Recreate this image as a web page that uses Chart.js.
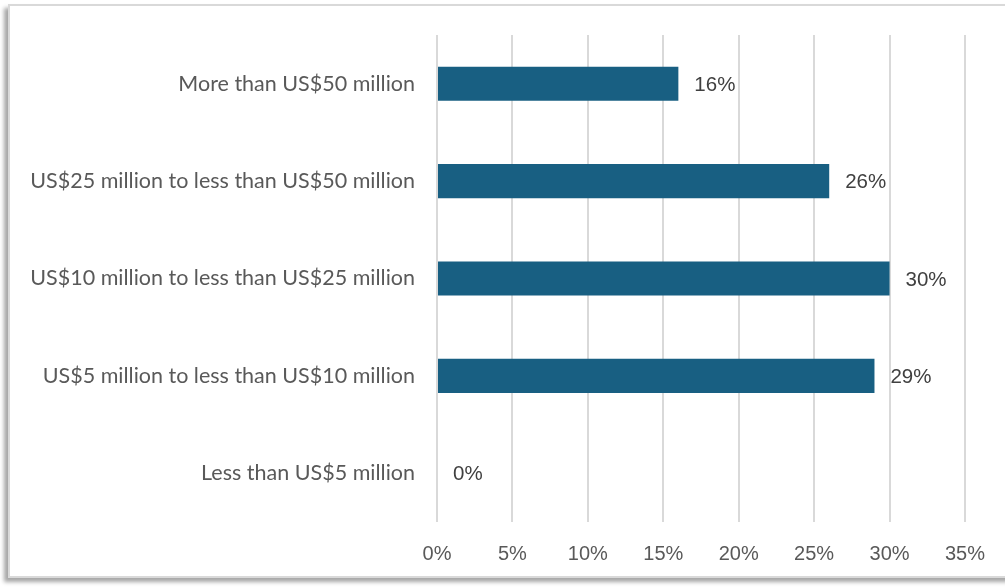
<!DOCTYPE html>
<html>
<head>
<meta charset="utf-8">
<script src="https://cdn.jsdelivr.net/npm/chart.js@4/dist/chart.umd.min.js"></script>
<style>
  html, body { margin: 0; padding: 0; background: #ffffff; overflow: hidden; }
  body { width: 1005px; height: 587px; position: relative; }
  .frame {
    position: absolute; left: 8px; top: 4px; width: 1020px; height: 574px;
    border: 2px solid #d9d9d9; box-sizing: border-box; background: #fff;
    box-shadow: -4px 4px 4px rgba(0,0,0,0.35);
  }
  canvas { position: absolute; left: 0; top: 0; }
</style>
</head>
<body>
<div class="frame"></div>
<canvas id="c" width="1005" height="587"></canvas>
<script>
const categories = [
  'More than US$50 million',
  'US$25 million to less than US$50 million',
  'US$10 million to less than US$25 million',
  'US$5 million to less than US$10 million',
  'Less than US$5 million'
];
const shares = [16, 26, 30, 29, 0];
const xTicks = [0, 5, 10, 15, 20, 25, 30, 35];

const valueLabels = {
  id: 'valueLabels',
  afterDatasetsDraw(chart) {
    const ctx = chart.ctx;
    const meta = chart.getDatasetMeta(0);
    ctx.save();
    ctx.font = '20.5px "Liberation Sans", Arial, sans-serif';
    ctx.fillStyle = '#404040';
    ctx.textAlign = 'left';
    ctx.textBaseline = 'middle';
    meta.data.forEach((bar, i) => {
      ctx.fillText(shares[i] + '%', bar.x + 16, bar.y + 1.5);
    });
    ctx.restore();
  }
};

new Chart(document.getElementById('c'), {
  type: 'bar',
  data: {
    labels: categories,
    datasets: [{
      data: shares,
      backgroundColor: '#185f82',
      borderWidth: 0,
      barPercentage: 0.35,
      categoryPercentage: 1
    }]
  },
  options: {
    indexAxis: 'y',
    responsive: false,
    animation: false,
    layout: { padding: { left: 0, right: 40, top: 35, bottom: 0 } },
    plugins: { legend: { display: false }, tooltip: { enabled: false } },
    scales: {
      x: {
        min: 0, max: 35,
        afterBuildTicks(scale) { scale.ticks = xTicks.map(v => ({ value: v })); },
        afterFit(scale) { scale.height = 65; },
        grid: { color: '#d9d9d9', lineWidth: 2, drawTicks: false },
        border: { display: false },
        ticks: {
          padding: 20,
          color: '#595959',
          font: { family: '"Liberation Sans", Arial, sans-serif', size: 20 },
          callback: v => v + '%'
        }
      },
      y: {
        afterFit(scale) { scale.width = 437; },
        grid: { display: false, drawTicks: false },
        border: { display: false },
        ticks: {
          padding: 22,
          color: '#595959',
          font: { family: 'Lato, sans-serif', size: 21.5 }
        }
      }
    }
  },
  plugins: [valueLabels]
});
</script>
</body>
</html>
